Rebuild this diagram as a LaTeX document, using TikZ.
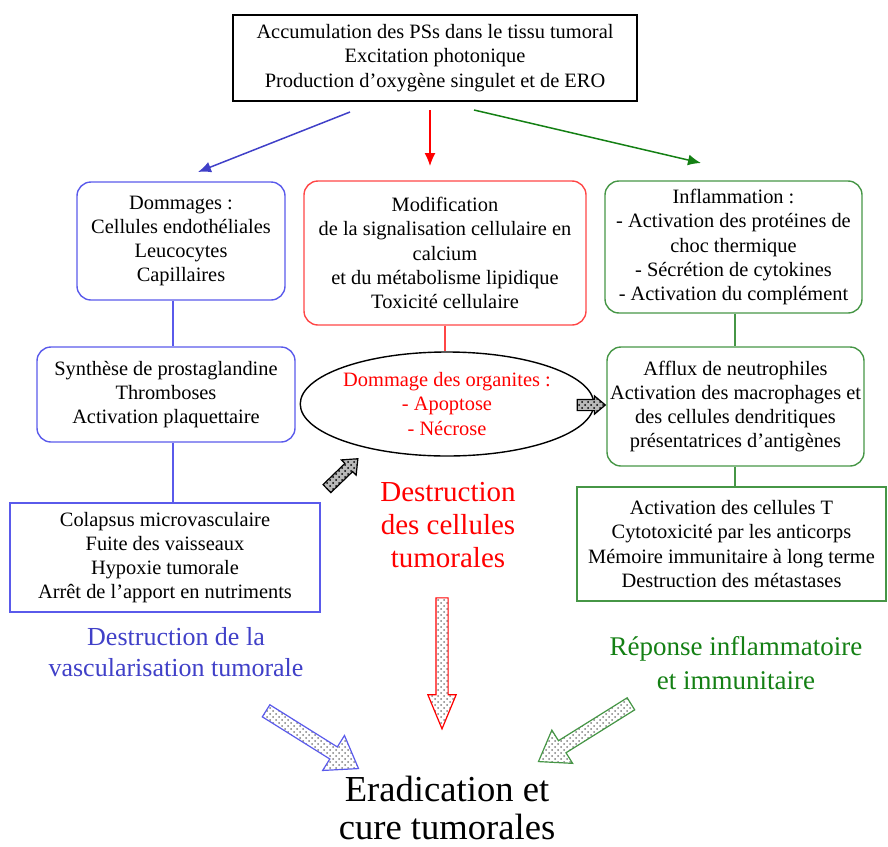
\documentclass[tikz,border=0pt]{standalone}
\usepackage{fontspec}
\setmainfont{Liberation Serif}
\usetikzlibrary{shapes.geometric,shapes.arrows,patterns,arrows.meta}
\definecolor{myblue}{RGB}{64,64,200}
\definecolor{mygreen}{RGB}{20,128,20}
\definecolor{bluefr}{RGB}{90,90,235}
\definecolor{greenfr}{RGB}{70,150,70}
\definecolor{redfr}{RGB}{255,70,70}
\begin{document}
\begin{tikzpicture}[x=0.5pt, y=-0.5pt,
    txt/.style={align=center, font=\fontsize{10.2}{12.1}\selectfont, inner sep=0pt},
    roundbox/.style={txt, draw, rounded corners=7pt, line width=0.7pt},
    sqbox/.style={txt, draw, line width=0.6pt},
    fatarrow/.style={single arrow, draw, line width=0.6pt, inner xsep=0pt,
      single arrow head indent=0pt, pattern=crosshatch dots},
    smallarrow/.style={fatarrow, preaction={fill=gray!55}, pattern color=black,
      single arrow tip angle=80}]
        \useasboundingbox (0,0) rectangle (888,846);
        % Nodes
        \node (top) [sqbox, minimum width=202pt, minimum height=43pt] at (435,58) {Accumulation des PSs dans le tissu tumoral\\Excitation photonique\\Production d’oxygène singulet et de ERO};
        \node (dom) [roundbox, draw=bluefr, minimum width=104pt, minimum height=59pt] at (181,241) {Dommages :\\Cellules endothéliales\\Leucocytes\\Capillaires};
        \node (modif) [roundbox, draw=redfr, minimum width=141pt, minimum height=72pt] at (445,253) {Modification\\de la signalisation cellulaire en\\calcium\\et du métabolisme lipidique\\Toxicité cellulaire};
        \node (infl) [roundbox, draw=greenfr, minimum width=128.5pt, minimum height=66pt] at (733.5,247) {Inflammation :\\- Activation des protéines de\\choc thermique\\- Sécrétion de cytokines\\- Activation du complément};
        \node (synth) [roundbox, draw=bluefr, minimum width=129pt, minimum height=47.5pt] at (166,394.5) {Synthèse de prostaglandine\\Thromboses\\Activation plaquettaire};
        \node (colap) [sqbox, draw=bluefr, minimum width=155pt, minimum height=54.5pt] at (165,557.5) {Colapsus microvasculaire\\Fuite des vaisseaux\\Hypoxie tumorale\\Arrêt de l’apport en nutriments};
        \node (orga) [ellipse, txt, draw, line width=0.7pt, minimum width=125pt, minimum height=52pt, text=red] at (447,404) {Dommage des organites :\\- Apoptose\\- Nécrose};
        \node (afflux) [roundbox, draw=greenfr, minimum width=128.5pt, minimum height=59.5pt] at (735.5,406.5) {Afflux de neutrophiles\\Activation des macrophages et\\des cellules dendritiques\\présentatrices d’antigènes};
        \node (activ) [sqbox, draw=greenfr, minimum width=154.5pt, minimum height=57pt] at (731.5,544) {Activation des cellules T\\Cytotoxicité par les anticorps\\Mémoire immunitaire à long terme\\Destruction des métastases};

        % Labels
        \node (lbred) [align=center, text=red, font=\fontsize{14.5}{16.3}\selectfont] at (448,525) {Destruction\\des cellules\\tumorales};
        \node (lbblue) [align=center, text=myblue, font=\fontsize{13}{15.5}\selectfont] at (176,652) {Destruction de la\\vascularisation tumorale};
        \node (lbgreen) [align=center, text=mygreen, font=\fontsize{13.5}{17}\selectfont] at (736,663) {Réponse inflammatoire\\et immunitaire};
        \node (erad) [align=center, font=\fontsize{18.3}{19}\selectfont] at (447,808) {Eradication et\\cure tumorales};

        % Fat arrows
        \node (fa1) [smallarrow, inner ysep=2.5pt, minimum height=21.5pt, single arrow head extend=2.5pt, rotate=44] at (340,476) {};
        \node (fa2) [smallarrow, inner ysep=2.5pt, minimum height=14pt, single arrow head extend=1.75pt] at (588,405) {};
        \node (fa3) [fatarrow, draw=red, pattern color=gray, inner ysep=2.75pt, minimum height=65.5pt, single arrow head extend=4pt, single arrow tip angle=45, rotate=-90] at (442,656) {};
        \node (fa4) [fatarrow, draw=bluefr, pattern color=gray, inner ysep=3.25pt, minimum height=54.5pt, single arrow head extend=6.75pt, single arrow tip angle=70, rotate=-32] at (308,737) {};
        \node (fa5) [fatarrow, draw=greenfr, pattern color=gray, inner ysep=3.25pt, minimum height=54.5pt, single arrow head extend=6.25pt, single arrow tip angle=70, rotate=212] at (589,730) {};

        % Free ends
        \coordinate (b0) at (350,112);
        \coordinate (b1) at (198,172);
        \coordinate (r0) at (430,110);
        \coordinate (r1) at (430,166);
        \coordinate (g0) at (474,110);
        \coordinate (g1) at (701,163);
        \coordinate (bl) at (173,0);
        \coordinate (gl) at (735,0);

        % Edges
        \draw [myblue, line width=0.75pt, -{Latex[length=6.5pt, width=5.5pt]}] (b0) -- (b1);
        \draw [red, line width=0.6pt, -{Latex[length=6.5pt, width=5.5pt]}] (r0) -- (r1);
        \draw [mygreen, line width=0.75pt, -{Latex[length=6.5pt, width=5.5pt]}] (g0) -- (g1);
        \draw [bluefr, line width=0.7pt] (dom.south -| bl) -- (synth.north -| bl);
        \draw [bluefr, line width=0.7pt] (synth.south -| bl) -- (colap.north -| bl);
        \draw [redfr, line width=0.7pt] (modif.south) -- (modif.south |- orga.north);
        \draw [greenfr, line width=0.7pt] (infl.south -| gl) -- (afflux.north -| gl);
        \draw [greenfr, line width=0.7pt] (afflux.south -| gl) -- (activ.north -| gl);

    \end{tikzpicture}
\end{document}
